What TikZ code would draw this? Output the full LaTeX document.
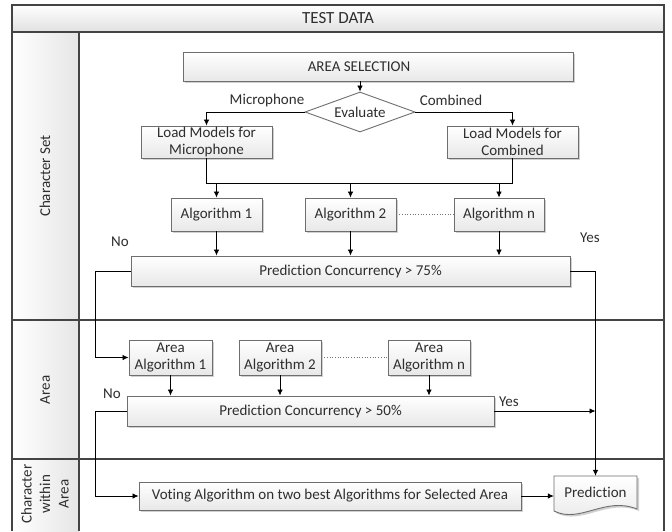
\documentclass[tikz,border=0pt]{standalone}
\usepackage{fontspec}
\setmainfont[RawFeature={-liga}]{Carlito}
\usetikzlibrary{arrows.meta,shapes.geometric,shadows,calc}
\definecolor{txt}{HTML}{2E2E2E}
\definecolor{frm}{HTML}{444444}
\definecolor{bord}{HTML}{6E6E6E}
\tikzset{
  box/.style={draw=bord, line width=0.9pt, top color=white, bottom color=black!9,
    drop shadow={shadow xshift=2pt, shadow yshift=-2pt, fill=black!30, opacity=0.6},
    align=center, inner sep=0pt, text=txt, font=\fontsize{15}{17.5}\selectfont},
  dia/.style={draw=bord, line width=0.9pt, fill=white, shape=diamond, aspect=2.75,
    inner sep=0pt, text=txt, font=\fontsize{15}{17.5}\selectfont},
  lbl/.style={text=txt, inner sep=0pt, font=\fontsize{15}{17.5}\selectfont},
  lanelbl/.style={text=txt, inner sep=0pt, rotate=90, align=center, font=\fontsize{15}{18.5}\selectfont},
  arr/.style={draw=black, line width=0.8pt, -{Latex[length=6pt,width=5.5pt]}},
  ln/.style={draw=black, line width=0.8pt},
  dot/.style={draw=black!55, line width=0.7pt, dotted},
  frame/.style={draw=frm, line width=1.1pt}
}
\begin{document}
\begin{tikzpicture}[x=1pt,y=-1pt]
\useasboundingbox (0,0) rectangle (672,531);
% pool background
\fill[white] (12,5) rectangle (664,531);
\shade[top color=white, bottom color=black!12] (12,5) rectangle (664,32);
\shade[left color=white, right color=black!10] (12,32) rectangle (79,531);
\draw[frame] (12,531) -- (12,5) -- (664,5) -- (664,531);
\draw[frame] (12,32) -- (664,32);
\draw[frame] (79,32) -- (79,531);
\draw[frame] (12,320) -- (664,320);
\draw[frame] (12,459) -- (664,459);
\node[lbl, font=\fontsize{17}{20}\selectfont] (title) at (338,18) {TEST DATA};
% lane labels
\node[lanelbl] (lane1) at (45,176) {Character Set};
\node[lanelbl] (lane2) at (45,390) {Area};
\node[lanelbl] (lane3) at (45,494) {Character\\within\\Area};

% nodes
\node[box, minimum width=390, minimum height=29] (areasel) at (378,66.5) {\hspace*{-38pt}AREA SELECTION};
\node[dia, minimum width=110, minimum height=40] (eval) at (360,112) {\raisebox{-1pt}{Evaluate}};
\node[box, minimum width=131, minimum height=32] (loadmic) at (206.5,142) {Load Models for\\Microphone};
\node[box, minimum width=131, minimum height=32] (loadcomb) at (512.5,142) {Load Models for\\Combined};
\node[box, minimum width=91, minimum height=33] (alg1) at (216.5,214.5) {Algorithm 1};
\node[box, minimum width=91, minimum height=33] (alg2) at (350.5,214.5) {Algorithm 2};
\node[box, minimum width=90, minimum height=33] (algn) at (499,214.5) {Algorithm n};
\node[box, minimum width=439, minimum height=30] (pc75) at (350.5,271) {Prediction Concurrency > 75\%};
\node[box, minimum width=83, minimum height=35] (aalg1) at (170.5,357.5) {Area\\Algorithm 1};
\node[box, minimum width=82, minimum height=35] (aalg2) at (280,357.5) {Area\\Algorithm 2};
\node[box, minimum width=82, minimum height=35] (aalgn) at (429,357.5) {Area\\Algorithm n};
\node[box, minimum width=367, minimum height=30] (pc50) at (310.5,411) {Prediction Concurrency > 50\%};
\node[box, minimum width=382, minimum height=28] (vote) at (330,496) {Voting Algorithm on two best Algorithms for Selected Area};
% document shape
\path[draw=bord, line width=0.9pt, top color=white, bottom color=black!9,
    drop shadow={shadow xshift=2pt, shadow yshift=-2pt, fill=black!30, opacity=0.6}]
  (554,476) -- (637,476) -- (637,509) .. controls (605,496) and (580,524) .. (554,511) -- cycle;
\node[lbl, minimum width=83, minimum height=35] (pred) at (595.5,493.5) {\raisebox{2pt}{Prediction}};

% labels
\node[lbl] (lmic) at (267,100) {Microphone};
\node[lbl] (lcomb) at (451,100) {Combined};
\node[lbl] (no1) at (120,242) {No};
\node[lbl] (yes1) at (590,238) {Yes};
\node[lbl] (no2) at (112,394) {No};
\node[lbl] (yes2) at (509,402) {Yes};

% connectors
\draw[arr] (areasel.south -| eval.north) -- (eval.north);
\draw[arr] (eval.west) -| (loadmic.north);
\draw[arr] (eval.east) -| (loadcomb.north);
\coordinate (busL) at ($(loadmic.south)+(0,25)$);
\coordinate (busR) at ($(loadcomb.south)+(0,25)$);
\draw[ln] (loadmic.south) -- (busL) -- (busR) -- (loadcomb.south);
\draw[arr] (alg1.north |- busL) -- (alg1.north);
\draw[arr] (alg2.north |- busL) -- (alg2.north);
\draw[arr] (algn.north |- busL) -- (algn.north);
\draw[dot] (alg2.east) -- (algn.west);
\draw[arr] (alg1.south) -- (alg1.south |- pc75.north);
\draw[arr] (alg2.south) -- (alg2.south |- pc75.north);
\draw[arr] (algn.south) -- (algn.south |- pc75.north);
\draw[arr] (pc75.west) -- ++(-35,0) |- (aalg1.west);
\draw[arr] (pc75.east) -| (pred.north);
\draw[arr] (aalg1.south) -- (aalg1.south |- pc50.north);
\draw[arr] (aalg2.south) -- (aalg2.south |- pc50.north);
\draw[arr] (aalgn.south) -- (aalgn.south |- pc50.north);
\draw[dot] (aalg2.east) -- (aalgn.west);
\draw[arr] (pc50.east) -- (pc50.east -| pred.north);
\draw[arr] (pc50.west) -- ++(-31,0) |- (vote.west);
\draw[arr] (vote.east) -- (vote.east -| pred.west);
\end{tikzpicture}
\end{document}
